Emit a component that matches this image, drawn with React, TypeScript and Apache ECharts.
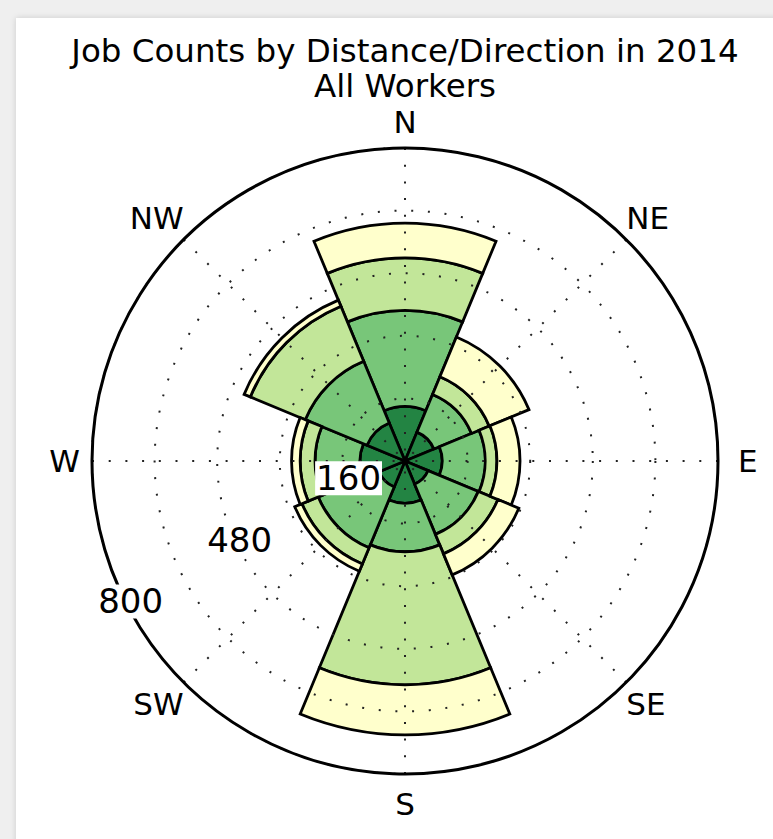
import React, { useEffect, useRef } from 'react';
import * as echarts from 'echarts';

const DIRECTIONS = ['N', 'NE', 'E', 'SE', 'S', 'SW', 'W', 'NW'];
const DIRECTION_ANGLES = [0, 45, 90, 135, 180, 225, 270, 315];
const DISTANCE_BANDS = ['Less than 10 miles', '10 to 24 miles', '25 to 50 miles', 'Greater than 50 miles'];
const LESS_THAN_10 = [139, 80, 95, 64, 108, 72, 115, 105];
const FROM_10_TO_24 = [246, 104, 110, 139, 124, 168, 115, 171];
const FROM_25_TO_50 = [134, 49, 30, 54, 340, 45, 38, 152];
const MORE_THAN_50 = [89, 110, 59, 58, 128, 20, 22, 17];
const BAND_VALUES = [LESS_THAN_10, FROM_10_TO_24, FROM_25_TO_50, MORE_THAN_50];
const BAND_COLORS = ['#238443', '#78c679', '#c2e699', '#ffffcc'];
const R_MAX = 800;
const R_STEP = 160;
const RADIAL_LABELS = [160, 480, 800];
const TITLE = 'Job Counts by Distance/Direction in 2014';
const SUBTITLE = 'All Workers';

const FONT = 'DejaVu Sans';
const FS = 31;

// per-direction padding to centre the labels at a fixed radius
const LABEL_PAD: Record<string, number[]> = {
  N: [0, 0, 11, 0],
  NE: [0, 0, 6, 0],
  E: [0, 0, 0, 20],
  SE: [6, 0, 0, 0],
  S: [14, 0, 0, 0],
  SW: [6, 0, 0, 0],
  W: [0, 12, 0, 0],
  NW: [0, 0, 6, 0],
};

export default function App() {
  const ref = useRef<HTMLDivElement>(null);
  useEffect(() => {
    if (!ref.current) return;
    const chart = echarts.init(ref.current, undefined, { renderer: 'svg' });
    const center = [405, 461];
    const radius = 313;
    const dotted = { color: '#222', width: 2, type: [2, 14.7] as any };
    const rich: any = {};
    DIRECTIONS.forEach((d) => {
      rich[d] = { fontSize: FS, fontFamily: FONT, color: '#000', padding: LABEL_PAD[d] };
    });
    const option: any = {
      animation: false,
      title: {
        text: TITLE + '\n' + SUBTITLE,
        left: 405,
        top: 33,
        padding: 0,
        textAlign: 'center',
        textStyle: { fontFamily: FONT, fontSize: 32.5, fontWeight: 'normal', color: '#000', lineHeight: 35 },
      },
      polar: [
        { center, radius },
        { center, radius },
        { center, radius },
      ],
      angleAxis: [
        {
          polarIndex: 0,
          type: 'category',
          data: DIRECTIONS,
          startAngle: 112.5,
          clockwise: true,
          axisLine: { show: false },
          axisTick: { show: false },
          axisLabel: { show: false },
          splitLine: { show: false },
        },
        {
          polarIndex: 1,
          type: 'value',
          min: 0,
          max: 360,
          interval: 45,
          startAngle: 90,
          clockwise: true,
          z: 5,
          axisLine: { show: true, lineStyle: { color: '#000', width: 3 } },
          axisTick: { show: false },
          splitLine: { show: true, lineStyle: dotted },
          axisLabel: {
            margin: 0,
            fontSize: FS,
            fontFamily: FONT,
            color: '#000',
            formatter: (v: number) => {
              const i = DIRECTION_ANGLES.indexOf(v);
              if (i < 0) return '';
              return '{' + DIRECTIONS[i] + '|' + DIRECTIONS[i] + '}';
            },
            rich,
          },
        },
        {
          polarIndex: 2,
          type: 'value',
          min: 0,
          max: 360,
          startAngle: 209.5,
          show: false,
        },
      ],
      radiusAxis: [
        {
          polarIndex: 0,
          type: 'value',
          min: 0,
          max: R_MAX,
          axisLine: { show: false },
          axisTick: { show: false },
          axisLabel: { show: false },
          splitLine: { show: false },
        },
        {
          polarIndex: 1,
          type: 'value',
          min: 0,
          max: R_MAX,
          interval: R_STEP,
          z: 5,
          axisLine: { show: false },
          axisTick: { show: false },
          axisLabel: { show: false },
          splitLine: { show: true, lineStyle: dotted },
        },
        {
          polarIndex: 2,
          type: 'value',
          min: 0,
          max: R_MAX,
          interval: R_STEP,
          z: 10,
          axisLine: { show: false },
          axisTick: { show: false },
          splitLine: { show: false },
          axisLabel: {
            margin: -12.8,
            align: 'center',
            verticalAlign: 'middle',
            padding: [0, 0, 5, 8.7],
            formatter: (v: number) => (RADIAL_LABELS.indexOf(v) >= 0 ? '{b|' + v + '}' : ''),
            rich: {
              b: {
                fontSize: 34,
                fontFamily: FONT,
                color: '#000',
                backgroundColor: '#fff',
                padding: [0, 1, 0, 1],
              },
            },
          },
        },
      ],
      series: BAND_VALUES.map((vals, i) => ({
        type: 'bar',
        name: DISTANCE_BANDS[i],
        coordinateSystem: 'polar',
        polarIndex: 0,
        stack: 'total',
        barCategoryGap: '0%',
        data: vals,
        itemStyle: { color: BAND_COLORS[i], borderColor: '#000', borderWidth: 2.8 },
        z: 2,
      })),
    };
    chart.setOption(option);
    return () => chart.dispose();
  }, []);
  return (
    <div style={{ position: 'fixed', left: 0, top: 0, width: 773, height: 839, background: '#efefef', overflow: 'hidden' }}>
      <div
        style={{
          position: 'absolute',
          left: 16,
          top: 18,
          width: 800,
          height: 860,
          background: '#fff',
          boxShadow: '0 0 6px rgba(0,0,0,0.15)',
        }}
      />
      <div ref={ref} style={{ position: 'absolute', left: 0, top: 0, width: 773, height: 839 }} />
    </div>
  );
}
